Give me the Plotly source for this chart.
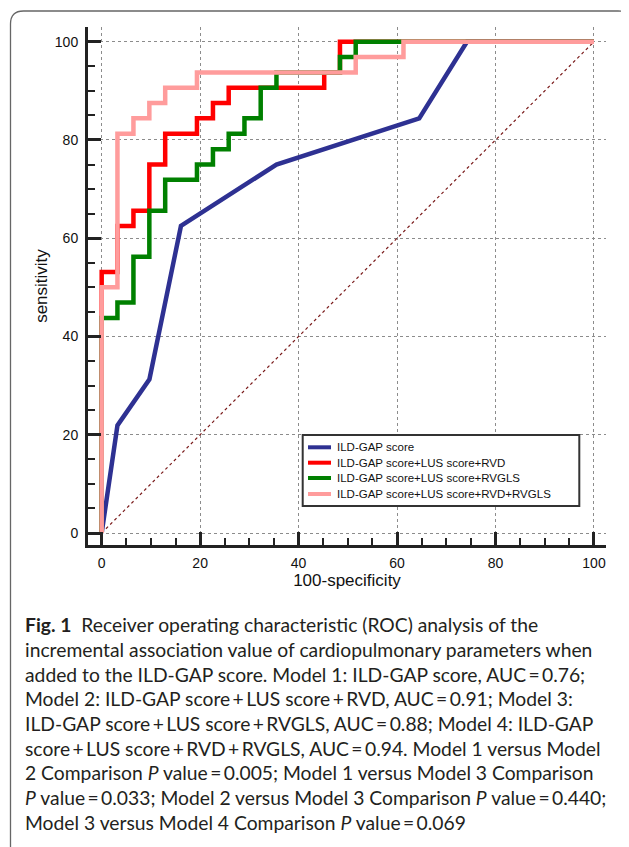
import plotly.graph_objects as go

# ---------------- data ----------------
names = [
    "ILD-GAP score",
    "ILD-GAP score+LUS score+RVD",
    "ILD-GAP score+LUS score+RVGLS",
    "ILD-GAP score+LUS score+RVD+RVGLS",
]

# Model 1: ILD-GAP score (100-specificity, sensitivity)
m1_x = [0, 3.2, 9.7, 16.1, 35.5, 64.5, 74.2, 100]
m1_y = [0, 21.9, 31.3, 62.5, 75.0, 84.4, 100, 100]

# Model 2: + LUS score + RVD (step curve corners)
m2_x = [0, 0, 3.2, 3.2, 6.45, 6.45, 9.68, 9.68, 12.9, 12.9, 19.35, 19.35,
        22.6, 22.6, 25.8, 25.8, 45.2, 45.2, 48.4, 48.4, 100]
m2_y = [0, 53.1, 53.1, 62.5, 62.5, 65.6, 65.6, 75.0, 75.0, 81.25, 81.25, 84.4,
        84.4, 87.5, 87.5, 90.6, 90.6, 93.75, 93.75, 100, 100]

# Model 3: + LUS score + RVGLS
m3_x = [0, 0, 3.2, 3.2, 6.45, 6.45, 9.68, 9.68, 12.9, 12.9, 19.35, 19.35,
        22.6, 22.6, 25.8, 25.8, 29.0, 29.0, 32.3, 32.3, 35.5, 35.5,
        48.4, 48.4, 51.6, 51.6, 100]
m3_y = [0, 43.75, 43.75, 46.9, 46.9, 56.25, 56.25, 65.6, 65.6, 71.9, 71.9, 75.0,
        75.0, 78.1, 78.1, 81.25, 81.25, 84.4, 84.4, 90.6, 90.6, 93.75,
        93.75, 96.9, 96.9, 100, 100]

# Model 4: + LUS score + RVD + RVGLS
m4_x = [0, 0, 3.2, 3.2, 6.45, 6.45, 9.68, 9.68, 12.9, 12.9, 19.35, 19.35,
        51.6, 51.6, 61.3, 61.3, 100]
m4_y = [0, 50.0, 50.0, 81.25, 81.25, 84.4, 84.4, 87.5, 87.5, 90.6, 90.6, 93.75,
        93.75, 96.9, 96.9, 100, 100]

ref_x = [0, 100]
ref_y = [0, 100]

tick_vals = [0, 20, 40, 60, 80, 100]
tick_text = ["0", "20", "40", "60", "80", "100"]

colors = ["#2e3192", "#ff0000", "#008000", "#ff9c9c"]

caption_lines = [
    "<b>Fig. 1</b>  Receiver operating characteristic (ROC) analysis of the",
    "incremental association value of cardiopulmonary parameters when",
    "added to the ILD-GAP score. Model 1: ILD-GAP score, AUC\u2009=\u20090.76;",
    "Model 2: ILD-GAP score\u2009+\u2009LUS score\u2009+\u2009RVD, AUC\u2009=\u20090.91; Model 3:",
    "ILD-GAP score\u2009+\u2009LUS score\u2009+\u2009RVGLS, AUC\u2009=\u20090.88; Model 4: ILD-GAP",
    "score\u2009+\u2009LUS score\u2009+\u2009RVD\u2009+\u2009RVGLS, AUC\u2009=\u20090.94. Model 1 versus Model",
    "2 Comparison <i>P</i> value\u2009=\u20090.005; Model 1 versus Model 3 Comparison",
    "<i>P</i> value\u2009=\u20090.033; Model 2 versus Model 3 Comparison <i>P</i> value\u2009=\u20090.440;",
    "Model 3 versus Model 4 Comparison <i>P</i> value\u2009=\u20090.069",
]

# ---------------- geometry ----------------
# the page body has an 8px margin, so the figure is offset by 8px
OFF = 8
FW, FH = 629 - OFF, 847 - OFF
ML, MT = 88 - OFF, 27 - OFF
PW, PH = 518, 518
MR, MB = FW - ML - PW, FH - MT - PH


def px(xp):
    """page x pixel -> paper fraction"""
    return (xp - OFF - ML) / PW


def py(yp):
    """page y pixel -> paper fraction"""
    return 1 - (yp - OFF - MT) / PH


fig = go.Figure()

fig.add_trace(go.Scatter(x=ref_x, y=ref_y, mode="lines", showlegend=False,
                         line=dict(color="#7a1a1a", width=1.2, dash="dot"),
                         hoverinfo="skip"))

series = [(m1_x, m1_y), (m2_x, m2_y), (m3_x, m3_y), (m4_x, m4_y)]
for (xs, ys), nm, c in zip(series, names, colors):
    fig.add_trace(go.Scatter(x=xs, y=ys, mode="lines", name=nm,
                             line=dict(color=c, width=4.5), showlegend=False))

axis_common = dict(
    automargin=False,
    showline=True, linecolor="#222", linewidth=3,
    ticks="inside", ticklen=13, tickwidth=3, tickcolor="#222",
    tickvals=tick_vals, ticktext=tick_text,
    tickfont=dict(family="Liberation Sans, Arial", size=14, color="#111"),
    showgrid=True, gridcolor="#8c8c8c", gridwidth=1, griddash="dot",
    zeroline=False, mirror=False,
    minor=dict(dtick=5, ticks="inside", ticklen=7, tickwidth=2,
               tickcolor="#222", showgrid=False),
)

fig.update_xaxes(range=[-2.78, 102.44], **axis_common, ticklabelstandoff=3,
                 title=dict(text="100-specificity",
                            font=dict(family="Liberation Sans, Arial", size=17, color="#111"),
                            standoff=2))
fig.update_yaxes(range=[-2.44, 102.99], **axis_common, ticklabelstandoff=4,
                 title=dict(text="sensitivity",
                            font=dict(family="Liberation Sans, Arial", size=17, color="#111"),
                            standoff=3))

shapes = []
annotations = []

# legend box (drawn manually to match the compact layout)
shapes.append(dict(type="rect", xref="paper", yref="paper",
                   x0=px(302.7), x1=px(579.3), y0=py(506), y1=py(435),
                   line=dict(color="#333", width=2), fillcolor="white", layer="above"))
row_y = [447.3, 462.7, 478.0, 494.0]
for nm, c, ry in zip(names, colors, row_y):
    shapes.append(dict(type="line", xref="paper", yref="paper",
                       x0=px(308), x1=px(331), y0=py(ry), y1=py(ry),
                       line=dict(color=c, width=4), layer="above"))
    annotations.append(dict(text=nm, xref="paper", yref="paper",
                            x=px(335), y=py(ry), xanchor="left", yanchor="middle",
                            showarrow=False,
                            font=dict(family="Liberation Sans, Arial", size=11.5, color="#111")))

# rounded outer frame
x0, x1, y0, y1, r = 10.5, 631, 11, 860, 13
path = (f"M {px(x0)},{py(y1)} L {px(x0)},{py(y0 + r)} "
        f"Q {px(x0)},{py(y0)} {px(x0 + r)},{py(y0)} "
        f"L {px(x1 - r)},{py(y0)} Q {px(x1)},{py(y0)} {px(x1)},{py(y0 + r)} "
        f"L {px(x1)},{py(y1)}")
shapes.append(dict(type="path", xref="paper", yref="paper", path=path,
                   line=dict(color="#666", width=1.3)))

# caption
cap_top = 624.8
for i, line in enumerate(caption_lines):
    annotations.append(dict(text=line, xref="paper", yref="paper",
                            x=px(23), y=py(cap_top + 24.65 * i),
                            xanchor="left", yanchor="middle", showarrow=False,
                            font=dict(family="Lato", size=19.3, color="#231f20")))

fig.update_layout(
    width=FW, height=FH,
    margin=dict(l=ML, r=MR, t=MT, b=MB, pad=0, autoexpand=False),
    paper_bgcolor="white", plot_bgcolor="white",
    showlegend=False,
    shapes=shapes, annotations=annotations,
)

fig.write_html("out.html")
